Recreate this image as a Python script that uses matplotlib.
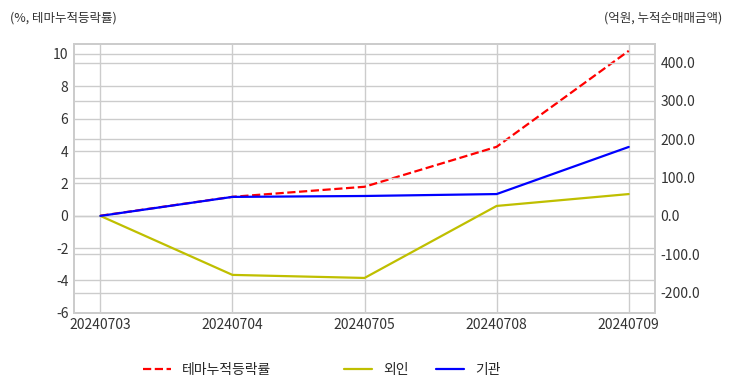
import matplotlib
matplotlib.use('Agg')
import matplotlib.pyplot as plt
import seaborn as sns
from matplotlib.ticker import FormatStrFormatter

# 데이터
dates = ['20240703', '20240704', '20240705', '20240708', '20240709']
theme_rate = [0.0, 1.17, 1.79, 4.26, 10.19]     # 테마누적등락률 (%)
foreign = [0.0, -154.0, -162.0, 26.0, 57.0]    # 외인 누적순매매금액 (억원)
inst = [0.0, 49.6, 52.0, 57.0, 180.0]          # 기관 누적순매매금액 (억원)

sns.set_theme(style='whitegrid')
plt.rcParams['font.family'] = ['Noto Sans CJK KR', 'DejaVu Sans']
plt.rcParams['axes.unicode_minus'] = False

fig, ax1 = plt.subplots(figsize=(7.32, 3.92), dpi=100)
fig.subplots_adjust(left=0.101, right=0.895, top=0.888, bottom=0.202)
ax2 = ax1.twinx()

x = range(len(dates))
l1, = ax1.plot(x, theme_rate, color='#ff0000', linestyle='--', linewidth=1.6, label='테마누적등락률')
l2, = ax2.plot(x, foreign, color='#bfbf00', linewidth=1.6, label='외인')
l3, = ax2.plot(x, inst, color='#0000ff', linewidth=1.6, label='기관')

ax1.set_xlim(-0.2, 4.2)
ax1.set_xticks(list(x))
ax1.set_xticklabels(dates)
ax1.set_ylim(-6, 10.62)
ax1.set_yticks(range(-6, 11, 2))
ax2.set_ylim(-253, 449)
ax2.set_yticks([-200, -100, 0, 100, 200, 300, 400])
ax2.yaxis.set_major_formatter(FormatStrFormatter('%.1f'))

for ax in (ax1, ax2):
    ax.tick_params(labelsize=10, colors='#333333', length=0, pad=4)
    for s in ax.spines.values():
        s.set_color('#cccccc')
ax2.grid(True, color='#cccccc')

fig.text(0.013, 0.955, '(%, 테마누적등락률)', fontsize=9, color='#333333', va='center')
fig.text(0.987, 0.955, '(억원, 누적순매매금액)', fontsize=9, color='#333333', va='center', ha='right')

fig.legend(handles=[l1], loc='center', bbox_to_anchor=(0.283, 0.056), frameon=False, fontsize=10)
fig.legend(handles=[l2, l3], loc='center', bbox_to_anchor=(0.577, 0.056), ncol=2, frameon=False, fontsize=10)

fig.savefig('out.png', dpi=100)
